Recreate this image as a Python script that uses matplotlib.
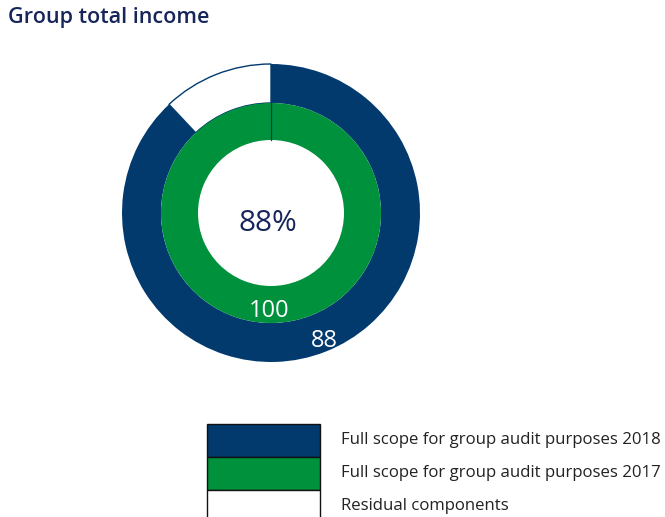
import matplotlib
matplotlib.use("Agg")
import matplotlib.pyplot as plt
from matplotlib.patches import Rectangle

# ring values (percent of group total income)
outer_labels = ["Full scope 2018", "Residual components"]
outer_values = [88, 12]
inner_values = [100]
centre_value = 88

legend_labels = ["Full scope for group audit purposes 2018",
                 "Full scope for group audit purposes 2017",
                 "Residual components"]

navy = "#023a6e"
green = "#00913d"
title_col = "#17265a"

plt.rcParams['font.family'] = ['Open Sans', 'DejaVu Sans']

W, H = 665, 517
fig = plt.figure(figsize=(W / 100, H / 100), dpi=100)

# pixel-space overlay for the title and legend
ov = fig.add_axes([0, 0, 1, 1])
ov.set_xlim(0, W)
ov.set_ylim(H, 0)
ov.axis('off')

ov.text(8, 7, "Group total income", fontsize=15.5, fontweight='semibold',
        color=title_col, va='top', ha='left')

# donut
cx, cy, R = 271, 213, 149
ax = fig.add_axes([(cx - 150) / W, (H - cy - 150) / H, 300 / W, 300 / H])

wedges, _ = ax.pie(outer_values, radius=1.0, startangle=90, counterclock=False,
                   colors=[navy, "white"],
                   wedgeprops=dict(width=39 / R, linewidth=0))
wedges[1].set_edgecolor(navy)
wedges[1].set_linewidth(1.0)

r_in = 110 / R
ax.pie(inner_values, radius=r_in, startangle=90, counterclock=False,
       colors=[green], wedgeprops=dict(width=37 / R, linewidth=0))
# seam of the inner ring at twelve o'clock
ax.plot([0, 0], [r_in - 37 / R, r_in], color=navy, lw=0.9)

ax.set_xlim(-150 / R, 150 / R)
ax.set_ylim(-150 / R, 150 / R)
ax.set_aspect('equal')
ax.axis('off')

ax.text(-0.02, -0.07, f"{centre_value}%", fontsize=21.5, color=title_col,
        ha='center', va='center')
ax.text(-0.01, -0.66, f"{inner_values[0]}", fontsize=17, color='white',
        ha='center', va='center')
ax.text(0.355, -0.86, f"{outer_values[0]}", fontsize=17, color='white',
        ha='center', va='center')

# legend boxes
box_cols = [navy, green, "white"]
for i, (lab, col) in enumerate(zip(legend_labels, box_cols)):
    y0 = 424 + i * 33
    ov.add_patch(Rectangle((207, y0), 113, 33, facecolor=col,
                           edgecolor='#111111', linewidth=1.0))
    ov.text(341, y0 + 16, lab, fontsize=12.1, color='#222222',
            va='center', ha='left')

fig.savefig("out.png", dpi=100)
